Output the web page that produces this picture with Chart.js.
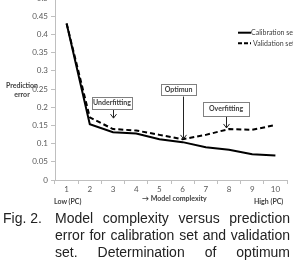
<!DOCTYPE html>
<html lang="en">
<head>
<meta charset="UTF-8">
<title>Model complexity vs prediction error</title>
<style>
    body {
        margin: 0;
        width: 293px;
        height: 275px;
        overflow: hidden;
        background: #fff;
        position: relative;
        font-family: Lato, "Open Sans", sans-serif;
    }
    #chart {
        position: absolute;
        left: 0;
        top: -12px;
    }
    .lbl {
        position: absolute;
        font-size: 7px;
        font-weight: bold;
        color: #404040;
        white-space: nowrap;
        line-height: 9px;
    }
    #caption {
        position: absolute;
        left: 3px;
        top: 210px;
        width: 287px;
        font-family: "Liberation Sans", Arial, sans-serif;
        font-size: 14px;
        line-height: 17px;
        color: #222;
        display: flex;
    }
    #caption .fig {
        width: 52px;
        flex: none;
    }
    #caption .body {
        flex: 1;
    }
    #caption .body div {
        text-align: justify;
        text-align-last: justify;
    }
</style>
</head>
<body>
<canvas id="chart" width="293" height="220"></canvas>

<div class="lbl" style="left:2px; top:81px; width:40px; text-align:center;">Prediction<br>error</div>
<div class="lbl" style="left:54px; top:197px;">Low (PC)</div>
<div class="lbl" style="left:142px; top:194px;">&#8594; Model complexity</div>
<div class="lbl" style="left:254px; top:197px;">High (PC)</div>

<div id="caption">
    <div class="fig">Fig. 2.</div>
    <div class="body">
        <div>Model complexity versus prediction</div>
        <div>error for calibration set and validation</div>
        <div>set. Determination of optimum</div>
    </div>
</div>

<script src="https://cdn.jsdelivr.net/npm/chart.js"></script>
<script>
    const complexity = ['1', '2', '3', '4', '5', '6', '7', '8', '9', '10'];
    const calibrationError = [0.43, 0.153, 0.131, 0.128, 0.112, 0.104, 0.09, 0.083, 0.071, 0.067];
    const validationError = [0.43, 0.172, 0.14, 0.136, 0.124, 0.112, 0.124, 0.14, 0.138, 0.151];
    const seriesNames = ['Calibration set', 'Validation set'];

    // callout boxes: category index, box top/bottom (value), arrow tip (value)
    const notes = [
        { text: 'Underfitting', at: 2, top: 0.2275, bottom: 0.195, tip: 0.17, width: 40, boxShift: -1, arrowShift: 0 },
        { text: 'Optimun', at: 5, top: 0.263, bottom: 0.232, tip: 0.113, width: 35, boxShift: -4, arrowShift: 0 },
        { text: 'Overfitting', at: 7, top: 0.2136, bottom: 0.176, tip: 0.143, width: 46, boxShift: -3, arrowShift: -3 }
    ];

    const tickFont = { family: 'Lato', size: 8 };

    // draws legend and callouts on top of the lines
    const extras = {
        id: 'extras',
        afterDraw(chart) {
            const ctx = chart.ctx;
            const x = chart.scales.x;
            const y = chart.scales.y;
            ctx.save();

            // legend
            const legY = [44.7, 55.3];
            ctx.strokeStyle = '#000';
            ctx.lineWidth = 2;
            ctx.font = '7px Lato';
            ctx.fillStyle = '#404040';
            ctx.textBaseline = 'middle';
            legY.forEach(function(ly, i) {
                ctx.setLineDash(i === 1 ? [4, 2] : []);
                ctx.beginPath();
                ctx.moveTo(238, ly);
                ctx.lineTo(251, ly);
                ctx.stroke();
                ctx.fillText(seriesNames[i], i === 1 ? 253 : 251, ly);
            });
            ctx.setLineDash([]);

            // callouts
            notes.forEach(function(n) {
                const cx = x.getPixelForValue(n.at);
                const bx = cx + n.boxShift - n.width / 2;
                const by = y.getPixelForValue(n.top);
                const bh = y.getPixelForValue(n.bottom) - by;
                ctx.fillStyle = '#fff';
                ctx.fillRect(bx, by, n.width, bh);
                ctx.strokeStyle = '#808080';
                ctx.lineWidth = 1;
                ctx.strokeRect(Math.round(bx) + 0.5, Math.round(by) + 0.5, n.width, Math.round(bh));
                ctx.fillStyle = '#404040';
                ctx.font = 'bold 7px Lato';
                ctx.textAlign = 'center';
                ctx.fillText(n.text, bx + n.width / 2, by + bh / 2);

                const ax = Math.round(cx + n.arrowShift) + 0.5;
                const tipY = y.getPixelForValue(n.tip);
                ctx.strokeStyle = '#222';
                ctx.beginPath();
                ctx.moveTo(ax, by + bh + 1);
                ctx.lineTo(ax, tipY);
                ctx.moveTo(ax - 3, tipY - 4);
                ctx.lineTo(ax, tipY);
                ctx.lineTo(ax + 3, tipY - 4);
                ctx.stroke();
            });
            ctx.restore();
        }
    };

    new Chart(document.getElementById('chart').getContext('2d'), {
        type: 'line',
        data: {
            labels: complexity,
            datasets: [{
                label: seriesNames[0],
                data: calibrationError,
                borderColor: '#000',
                borderWidth: 2,
                pointRadius: 0,
                tension: 0,
                fill: false
            }, {
                label: seriesNames[1],
                data: validationError,
                borderColor: '#000',
                borderWidth: 2,
                borderDash: [5, 3],
                pointRadius: 0,
                tension: 0,
                fill: false
            }]
        },
        options: {
            responsive: false,
            animation: false,
            devicePixelRatio: 1,
            layout: { padding: { top: 10, right: 6, left: 0, bottom: 0 } },
            plugins: {
                legend: { display: false },
                tooltip: { enabled: false }
            },
            scales: {
                x: {
                    offset: true,
                    grid: { drawOnChartArea: false, offset: true, tickLength: 4, color: '#bfbfbf' },
                    border: { color: '#bfbfbf' },
                    ticks: { font: tickFont, color: '#595959', padding: 1, maxRotation: 0 },
                    afterFit(scale) { scale.height = 28; }
                },
                y: {
                    min: 0,
                    max: 0.5,
                    grid: { drawOnChartArea: false, tickLength: 4, color: '#bfbfbf' },
                    border: { color: '#bfbfbf' },
                    ticks: {
                        stepSize: 0.05,
                        font: tickFont,
                        color: '#595959',
                        padding: 3,
                        callback: function(v) { return String(+v.toFixed(2)); }
                    },
                    afterFit(scale) { scale.width = 55; }
                }
            }
        },
        plugins: [extras]
    });
</script>
</body>
</html>
